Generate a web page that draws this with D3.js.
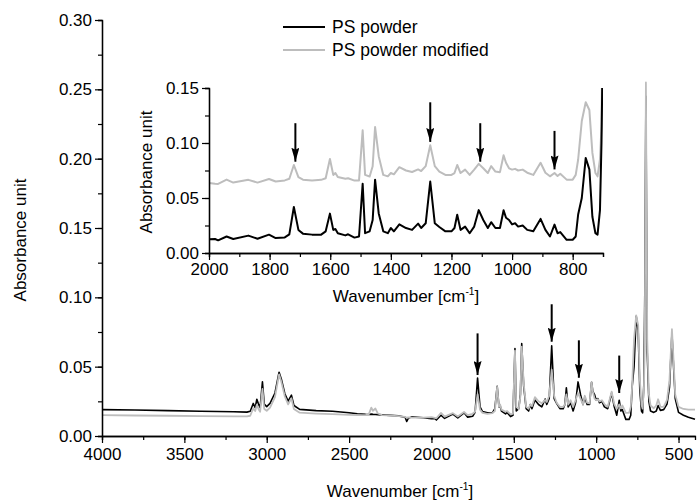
<!DOCTYPE html>
<html>
<head>
<meta charset="utf-8">
<script src="https://cdn.jsdelivr.net/npm/d3@7"></script>
<style>
  body { margin: 0; background: #fff; }
  svg { font-family: "Liberation Sans", Arial, sans-serif; }
</style>
</head>
<body>
<svg id="chart" width="697" height="503"></svg>
<script>
// wavenumber grid (cm-1) shared by both spectra
const wavenumber = [4000, 3800, 3600, 3400, 3200, 3120, 3100, 3082, 3070, 3060, 3050, 3040, 3026, 3015, 3000, 2980, 2950, 2925, 2910, 2890, 2870, 2850, 2835, 2800, 2700, 2600, 2500, 2450, 2400, 2380, 2365, 2355, 2340, 2325, 2300, 2200, 2160, 2150, 2140, 2120, 2050, 2000,
  1980, 1970, 1942, 1920, 1870, 1840, 1802, 1780, 1750, 1735, 1720, 1705, 1690, 1660, 1630, 1615, 1601, 1590, 1583, 1575, 1550, 1541, 1520, 1505, 1493, 1485, 1470, 1460, 1452, 1440, 1425, 1410, 1400, 1390, 1372, 1350, 1330, 1310, 1300, 1285, 1270, 1255, 1240, 1220, 1200, 1190, 1181, 1170, 1155, 1140, 1125, 1110, 1095, 1080, 1069, 1055, 1040, 1028, 1020, 1010, 1000, 990, 980, 965, 950, 930, 906, 890, 875, 860, 850, 841, 820, 800, 790, 782, 770, 757, 745, 735, 725, 718, 710, 705, 698, 690, 680, 670, 650, 635, 624, 610, 590, 570, 555, 540, 530, 520, 500, 470, 440, 400];

// PS powder
const psPowder = [.0190, .0187, .0183, .0179, .0175, .0172, .0178, .0235, .0205, .0265, .0230, .0205, .0390, .0230, .0212, .0235, .0310, .0460, .0405, .0305, .0252, .0295, .0220, .0192, .0183, .0178, .0168, .0160, .0156, .0155, .0158, .0156, .0155, .0154, .0152, .0145, .0135, .0105, .0128, .0138, .0132, .0125,
  .0127, .0115, .0150, .0127, .0158, .0130, .0167, .0136, .0142, .0170, .0418, .0210, .0176, .0167, .0167, .0197, .0358, .0210, .0218, .0180, .0160, .0170, .0140, .0150, .0630, .0180, .0197, .0300, .0667, .0360, .0197, .0180, .0227, .0197, .0260, .0227, .0210, .0267, .0227, .0270, .0650, .0270, .0236, .0197, .0197, .0227, .0348, .0210, .0240, .0180, .0240, .0390, .0300, .0227, .0280, .0227, .0227, .0388, .0320, .0300, .0260, .0270, .0240, .0250, .0210, .0197, .0310, .0210, .0150, .0258, .0180, .0190, .0120, .0120, .0150, .0350, .0500, .0864, .0760, .0330, .0180, .0167, .0390, .1000, .2450, .0600, .0250, .0180, .0170, .0180, .0220, .0185, .0190, .0230, .0350, .0740, .0500, .0270, .0170, .0150, .0135, .0120];

// PS powder modified
const psModified = [.0150, .0148, .0146, .0144, .0142, .0141, .0146, .0200, .0180, .0225, .0195, .0175, .0340, .0195, .0182, .0205, .0280, .0445, .0385, .0285, .0228, .0272, .0195, .0168, .0162, .0158, .0153, .0151, .0150, .0158, .0205, .0182, .0198, .0162, .0150, .0143, .0138, .0132, .0135, .0133, .0132, .0136,
  .0130, .0128, .0167, .0140, .0165, .0140, .0173, .0150, .0160, .0175, .0300, .0190, .0167, .0160, .0165, .0180, .0355, .0210, .0227, .0190, .0175, .0180, .0158, .0160, .0615, .0210, .0195, .0288, .0645, .0380, .0210, .0197, .0227, .0215, .0280, .0250, .0236, .0260, .0245, .0290, .0479, .0290, .0240, .0210, .0210, .0227, .0300, .0227, .0258, .0210, .0258, .0310, .0270, .0227, .0290, .0240, .0235, .0388, .0320, .0270, .0258, .0265, .0250, .0258, .0230, .0210, .0320, .0230, .0197, .0227, .0200, .0220, .0167, .0167, .0210, .0350, .0700, .0870, .0800, .0410, .0227, .0197, .0350, .0650, .2550, .0700, .0300, .0220, .0200, .0220, .0265, .0210, .0210, .0260, .0400, .0770, .0540, .0300, .0210, .0195, .0190, .0190];

// modified spectrum is offset upwards in the inset
const insetOffset = 0.05;

const seriesNames = ["PS powder", "PS powder modified"];
const seriesColors = ["#000000", "#bdbdbd"];

// tick values
const mainXTicks = [4000, 3500, 3000, 2500, 2000, 1500, 1000, 500];
const mainYTicks = [0, 0.05, 0.10, 0.15, 0.20, 0.25, 0.30];
const insetXTicks = [2000, 1800, 1600, 1400, 1200, 1000, 800];
const insetYTicks = [0, 0.05, 0.10, 0.15];

// arrows marking the new bands
const mainArrowX = [1720, 1270, 1105, 860];
const mainArrowTop = [0.074, 0.095, 0.069, 0.058];
const mainArrowTip = [0.044, 0.068, 0.042, 0.031];
const insetArrowX = [1715, 1270, 1105, 860];
const insetArrowTop = [0.118, 0.137, 0.118, 0.111];
const insetArrowTip = [0.083, 0.101, 0.083, 0.076];

const psData = wavenumber.map((w, i) => ({ w, a: psPowder[i], b: psModified[i] }));

const svg = d3.select("#chart");

// arrow head (points along the line direction)
svg.append("defs").append("marker")
  .attr("id", "head")
  .attr("markerUnits", "userSpaceOnUse")
  .attr("viewBox", "0 0 14 8")
  .attr("refX", 14).attr("refY", 4)
  .attr("markerWidth", 14).attr("markerHeight", 8)
  .attr("orient", "auto")
  .append("path")
  .attr("d", "M0,0 L14,4 L0,8 L2,4 Z")
  .attr("fill", "#000");

function drawAxes(g, x, y, xTicks, yTicks, xMinor, yMinor, fmtY, fontSize, labelDy) {
  const xr = x.range(), yr = y.range();
  // minor ticks
  g.append("g")
    .attr("transform", `translate(0,${yr[0]})`)
    .call(d3.axisBottom(x).tickValues(xMinor).tickSize(4).tickFormat(""));
  g.append("g")
    .attr("transform", `translate(${xr[0]},0)`)
    .call(d3.axisLeft(y).tickValues(yMinor).tickSize(4).tickFormat(""));
  // major ticks
  const gx = g.append("g")
    .attr("transform", `translate(0,${yr[0]})`)
    .call(d3.axisBottom(x).tickValues(xTicks).tickSize(7).tickSizeOuter(0).tickFormat(d3.format("d")));
  const gy = g.append("g")
    .attr("transform", `translate(${xr[0]},0)`)
    .call(d3.axisLeft(y).tickValues(yTicks).tickSize(7).tickSizeOuter(0).tickFormat(fmtY));
  gx.selectAll("text").style("font-size", fontSize + "px").attr("dy", labelDy).attr("fill", "#000");
  gy.selectAll("text").style("font-size", fontSize + "px").attr("fill", "#000");
  g.selectAll(".domain").attr("stroke", "#000").attr("stroke-width", 1.3);
  g.selectAll(".tick line").attr("stroke", "#000").attr("stroke-width", 1.2);
  g.selectAll(".tick text").attr("font-family", "Liberation Sans, Arial, sans-serif");
}

function xTitle(g, cx, cy, size) {
  const t = g.append("text")
    .attr("x", cx).attr("y", cy)
    .attr("text-anchor", "middle")
    .style("font-size", size + "px")
    .text("Wavenumber [cm");
  t.append("tspan").attr("dy", -size * 0.4).style("font-size", (size * 0.6) + "px").text("-1");
  t.append("tspan").attr("dy", size * 0.4).text("]");
}

function yTitle(g, cx, cy, size) {
  g.append("text")
    .attr("transform", `translate(${cx},${cy}) rotate(-90)`)
    .attr("text-anchor", "middle")
    .style("font-size", size + "px")
    .text("Absorbance unit");
}

function drawArrows(g, x, y, xs, tops, tips) {
  g.selectAll(null)
    .data(xs)
    .enter()
    .append("line")
    .attr("x1", (d) => x(d)).attr("x2", (d) => x(d))
    .attr("y1", (d, i) => y(tops[i]))
    .attr("y2", (d, i) => y(tips[i]))
    .attr("stroke", "#000")
    .attr("stroke-width", 2)
    .attr("marker-end", "url(#head)");
}

// ---------- main chart ----------
const x = d3.scaleLinear().domain([4000, 400]).range([102, 695]);
const y = d3.scaleLinear().domain([0, 0.30]).range([436, 20]);

const main = svg.append("g");

const lineA = d3.line().x((d) => x(d.w)).y((d) => y(d.a));
const lineB = d3.line().x((d) => x(d.w)).y((d) => y(d.b));

main.append("path").datum(psData).attr("d", lineA)
  .attr("fill", "none").attr("stroke", seriesColors[0]).attr("stroke-width", 1.6).attr("stroke-linejoin", "round");
main.append("path").datum(psData).attr("d", lineB)
  .attr("fill", "none").attr("stroke", seriesColors[1]).attr("stroke-width", 1.8).attr("stroke-linejoin", "round");

drawAxes(main, x, y, mainXTicks, mainYTicks,
  d3.range(4000, 399, -250), d3.range(0, 0.3001, 0.025), d3.format(".2f"), 17, "0.85em");

xTitle(main, 400, 497, 17);
yTitle(main, 26, 240, 17);

drawArrows(main, x, y, mainArrowX, mainArrowTop, mainArrowTip);

// legend
const legend = main.append("g");
seriesNames.forEach((name, i) => {
  const ly = 27 + i * 23;
  legend.append("line")
    .attr("x1", 283).attr("x2", 325).attr("y1", ly).attr("y2", ly)
    .attr("stroke", seriesColors[i]).attr("stroke-width", 2);
  legend.append("text")
    .attr("x", 332).attr("y", ly).attr("dy", "0.35em")
    .style("font-size", "17.5px")
    .text(name);
});

// ---------- inset ----------
const xi = d3.scaleLinear().domain([2000, 700]).range([209, 603]);
const yi = d3.scaleLinear().domain([0, 0.15]).range([253, 88]);

const inset = svg.append("g");

svg.select("defs").append("clipPath").attr("id", "insetClip")
  .append("rect").attr("x", 209).attr("y", 88).attr("width", 394).attr("height", 165);

const insetData = psData.filter((d) => d.w <= 2010 && d.w >= 690);
const lineAi = d3.line().x((d) => xi(d.w)).y((d) => yi(d.a));
const lineBi = d3.line().x((d) => xi(d.w)).y((d) => yi(d.b + insetOffset));

const curves = inset.append("g").attr("clip-path", "url(#insetClip)");
curves.append("path").datum(insetData).attr("d", lineBi)
  .attr("fill", "none").attr("stroke", seriesColors[1]).attr("stroke-width", 2).attr("stroke-linejoin", "round");
curves.append("path").datum(insetData).attr("d", lineAi)
  .attr("fill", "none").attr("stroke", seriesColors[0]).attr("stroke-width", 2).attr("stroke-linejoin", "round");

drawAxes(inset, xi, yi, insetXTicks, insetYTicks,
  d3.range(2000, 699, -100), d3.range(0, 0.1501, 0.025), d3.format(".2f"), 17, "0.7em");

xTitle(inset, 406, 302, 17);
yTitle(inset, 152, 172, 17);

drawArrows(inset, xi, yi, insetArrowX, insetArrowTop, insetArrowTip);
</script>
</body>
</html>
